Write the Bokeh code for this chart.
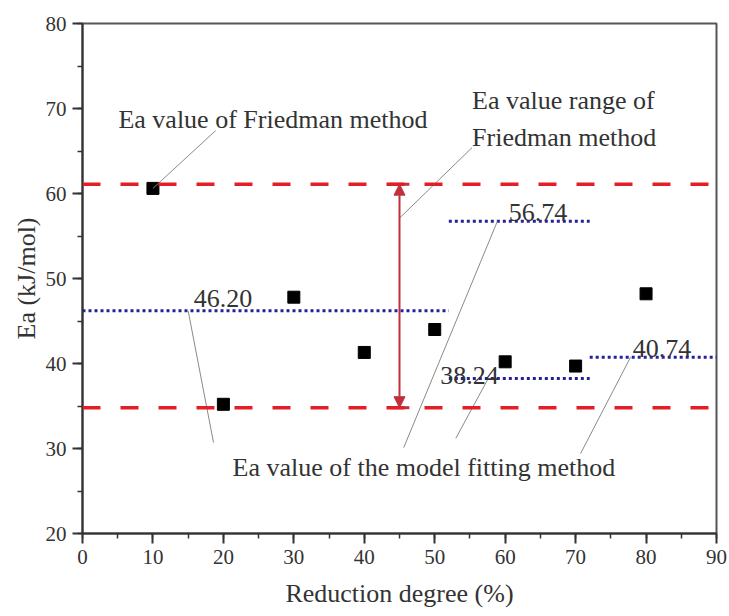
from bokeh.plotting import figure
from bokeh.models import Range1d, SingleIntervalTicker, Span, Arrow, NormalHead
from bokeh.core.properties import value
from bokeh.embed import file_html
from bokeh.resources import INLINE

# ---- data ----
reduction_degree = [10, 20, 30, 40, 50, 60, 70, 80]
ea_friedman = [60.6, 35.2, 47.8, 41.3, 44.0, 40.2, 39.7, 48.2]
friedman_max = 61.1
friedman_min = 34.8
arrow_x = 45
model_start = [0, 52, 52, 72]
model_end = [52, 72, 72, 90]
model_ea = [46.20, 56.74, 38.24, 40.74]
x_ticks = [0, 10, 20, 30, 40, 50, 60, 70, 80, 90]
y_ticks = [20, 30, 40, 50, 60, 70, 80]

FONT = value("Liberation Serif")
TXT = "#333333"
RED = "#e41e26"
BLUE = "#22229a"
ARROW = "#c0303c"
LEAD = "#8a8a8a"

p = figure(width=729, height=616, output_backend="svg", toolbar_location=None,
           x_range=Range1d(0, 90), y_range=Range1d(20, 80),
           min_border_left=82, min_border_right=13, min_border_top=23, min_border_bottom=83)
p.grid.visible = False
p.outline_line_color = "#555555"
p.outline_line_width = 2
p.background_fill_color = "white"
p.border_fill_color = "white"

for ax, ticks in ((p.xaxis[0], x_ticks), (p.yaxis[0], y_ticks)):
    ax.ticker = SingleIntervalTicker(interval=10, num_minor_ticks=2)
    ax.major_tick_out = 10
    ax.major_tick_in = 0
    ax.minor_tick_out = 5
    ax.minor_tick_in = 0
    ax.axis_line_color = "#333333"
    ax.axis_line_width = 2
    ax.major_tick_line_color = "#333333"
    ax.major_tick_line_width = 2
    ax.minor_tick_line_color = "#333333"
    ax.minor_tick_line_width = 1.5
    ax.major_label_text_font = "Liberation Serif"
    ax.major_label_text_font_size = "21px"
    ax.major_label_text_color = TXT
    ax.axis_label_text_font = "Liberation Serif"
    ax.axis_label_text_font_size = "26px"
    ax.axis_label_text_font_style = "normal"
    ax.axis_label_text_color = TXT
p.xaxis.axis_label = "Reduction degree (%)"
p.yaxis.axis_label = "Ea (kJ/mol)"
p.xaxis.major_label_standoff = 6
p.yaxis.major_label_standoff = 6
p.xaxis.axis_label_standoff = 12
p.yaxis.axis_label_standoff = 2

# Friedman range lines
for loc in (friedman_max, friedman_min):
    p.add_layout(Span(location=loc, dimension="width", line_color=RED,
                      line_width=3.5, line_dash="18 20"))

# model fitting segments
p.segment(x0=model_start, y0=model_ea, x1=model_end, y1=model_ea,
          line_color=BLUE, line_width=3, line_dash="3 3")

# double arrow showing range
p.add_layout(Arrow(x_start=arrow_x, y_start=friedman_min, x_end=arrow_x, y_end=friedman_max,
                   line_color=ARROW, line_width=2,
                   start=NormalHead(size=11, fill_color=ARROW, line_color=ARROW),
                   end=NormalHead(size=11, fill_color=ARROW, line_color=ARROW)))
p.segment(x0=[arrow_x - 1.4, arrow_x - 1.4], y0=[friedman_max, friedman_min],
          x1=[arrow_x + 1.4, arrow_x + 1.4], y1=[friedman_max, friedman_min],
          line_color=ARROW, line_width=3)

# Friedman points
p.scatter(reduction_degree, ea_friedman, marker="square", size=12,
          fill_color="black", line_color="black")

# leader lines
p.segment(x0=[10, arrow_x, 15.0, 58.9, 57.6, 77.8],
          y0=[ea_friedman[0], 57.1, model_ea[0], model_ea[1], model_ea[2], model_ea[3]],
          x1=[18.9, 55.3, 18.6, 45.6, 53.0, 70.7],
          y1=[67.4, 65.4, 30.7, 30.1, 31.2, 29.4],
          line_color=LEAD, line_width=1)

# annotation texts
p.text(x=[5.1, 55.3, 55.3, 21.3], y=[68.7, 70.9, 66.6, 27.8],
       text=["Ea value of Friedman method", "Ea value range of", "Friedman method",
             "Ea value of the model fitting method"],
       text_font=FONT, text_font_size="26px", text_color=TXT,
       text_align="left", text_baseline="alphabetic")
p.text(x=[15.8, 60.5, 50.8, 78.1], y=[47.6, 57.8, 38.6, 41.8],
       text=[f"{v:.2f}" for v in model_ea],
       text_font=FONT, text_font_size="26px", text_color=TXT,
       text_align="left", text_baseline="alphabetic")

open("out.html", "w").write(file_html(p, INLINE))
